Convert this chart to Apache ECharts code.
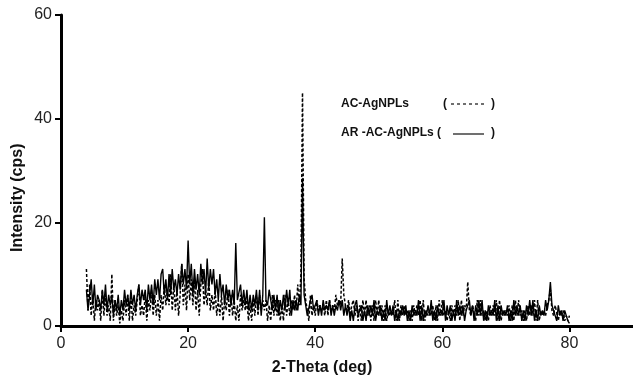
<!DOCTYPE html>
<html>
<head>
<meta charset="utf-8">
<script src="https://cdn.jsdelivr.net/npm/echarts@6/dist/echarts.min.js"></script>
<style>html,body{margin:0;padding:0;background:#fff}#c{width:633px;height:377px}</style>
</head>
<body>
<div id="c"></div>
<script>
// 2-Theta sampling (deg): start 4.0, step 0.25, to 80.0
const thetaStart = 4.0;
const thetaStep = 0.25;

// AC-AgNPLs (dashed), one row per degree (4 samples)
const acAgNPLs = [
  11,3,8,2,  6,1,5,3,  5,1,7,2,  6,2,4,1,  10,1,5,2,  4,0.5,3,1,
  5,2,6,1,  6,1,4,2,  5,8,2,4,  2,6,1,5,  3,7,2,6,  2,5,1,6,
  3,8,4,7,  4,10,3,8,  3,7,2,6,  12,4,8,3,  10,5,9,4,  9,3,7,2,
  8,11,4,7,  4,9,3,6,  3,7,2,5,  2,6,1,5,  3,7,2,6,  2,5,1,4,
  1,6,3,5,  3,5,1,4,  1,5,2,6,  2,6,3,5,  3,5,1,4,  1,6,2,5,
  2,5,1,4,  1,6,2,5,  2,5,3,6,  3,8,4,10,  45,9,5,3,  1,6,2,4,
  2,5,3,4,  3,4,2,5,  2,5,3,4,  3,6,4,5,  4,13,6,4,  3,5,2,4,
  5,2,4,1,  4,1,5,2,  5,2,4,1,  4,1,5,2,  5,2,4,1,  4,1,3,2,
  3,2,5,1,  5,1,4,2,  4,2,3,1,  3,1,4,2,  4,2,5,1,  5,1,3,2,
  3,2,4,1,  4,1,5,2,  5,2,3,1,  3,1,4,2,  4,2,5,1,  5,2,4,3,
  8.5,3,2,4,  4,1,5,2,  5,2,3,1,  3,1,4,2,  4,2,5,1,  5,1,3,2,
  3,2,4,1,  4,1,5,2,  5,2,3,1,  3,1,4,2,  4,2,5,1,  5,1,3,2,
  3,2,4,5,  7,3,2,4,  4,1,3,2,  3,1,2,1,
  2
];

// AR-AC-AgNPLs (solid), one row per degree (4 samples)
const arAcAgNPLs = [
  7,3,6,9,  4,8,3,6,  5,3,7,4,  8,3,6,4,  6,2,5,3,  6,2,5,3,
  7,4,6,3,  7,4,6,3,  6,8,4,7,  5,7,3,8,  5,8,4,9,  6,9,5,10,
  11,6,9,5,  10,6,11,7,  9,6,10,7,  12,8,11,7,  16.5,8,12,6,  11,7,10,6,
  12,8,11,6,  13,7,11,8,  11,6,9,5,  10,6,8,4,  8,5,7,4,  7,4,16,5,
  5,8,4,7,  4,7,3,6,  3,6,4,7,  3,7,2,6,  21,5,4,7,  7,3,6,3,
  6,2,5,3,  6,3,7,4,  7,2,5,3,  5,3,6,4,  28.5,6,4,2,  2,5,6,3,
  3,5,2,4,  2,5,3,4,  3,5,2,4,  2,4,3,5,  3,5,2,4,  2,4,1,3,
  1,4,5,2,  2,4,1,3,  1,4,2,4,  2,5,1,3,  2,4,1,3,  1,5,2,4,
  2,4,1,3,  1,3,2,4,  2,4,1,3,  1,4,2,3,  2,5,1,4,  1,3,2,4,
  2,5,1,3,  1,4,2,3,  2,5,1,4,  2,4,1,3,  1,5,2,4,  2,4,1,3,
  3,5,2,4,  1,4,2,5,  2,5,1,3,  1,4,2,3,  2,5,1,4,  1,4,2,3,
  2,4,1,3,  1,5,2,4,  2,4,1,3,  1,4,2,5,  2,5,1,3,  1,4,2,3,
  2,5,3,5,  8.5,4,3,2,  1,4,2,3,  1,3,2,1,
  0.5
];

const xTicks = [0, 20, 40, 60, 80];
const yTicks = [0, 20, 40, 60];
const seriesNames = ['AC-AgNPLs', 'AR -AC-AgNPLs'];

function pairs(vals) {
  return vals.map((v, i) => [thetaStart + i * thetaStep, v]);
}

const chart = echarts.init(document.getElementById('c'), null, {renderer: 'canvas'});
const font = 'Liberation Sans, Arial, Helvetica, sans-serif';
chart.setOption({
  animation: false,
  backgroundColor: '#fff',
  grid: {left: 61, top: 15, bottom: 51, right: -2, containLabel: false},
  xAxis: [{
    type: 'value', min: 0, max: 90, interval: 20,
    axisLine: {show: true, onZero: false, lineStyle: {color: '#000', width: 3}},
    axisTick: {show: true, length: 6, inside: false, lineStyle: {color: '#000', width: 2}, customValues: xTicks},
    axisLabel: {show: true, margin: 10, fontSize: 16, color: '#222', fontFamily: font, customValues: xTicks},
    splitLine: {show: false}
  }, {
    type: 'value', min: 0, max: 90, position: 'top',
    axisLine: {show: true, lineStyle: {color: '#000', width: 2.5}},
    axisTick: {show: false}, axisLabel: {show: false}, splitLine: {show: false}
  }],
  yAxis: {
    type: 'value', min: 0, max: 60, interval: 20,
    axisLine: {show: true, onZero: false, lineStyle: {color: '#000', width: 3}},
    axisTick: {show: true, length: 6, lineStyle: {color: '#000', width: 2}, customValues: yTicks},
    axisLabel: {show: true, margin: 9, fontSize: 16, color: '#222', fontFamily: font, customValues: yTicks},
    splitLine: {show: false}
  },
  series: [{
    name: seriesNames[0], type: 'line', data: pairs(acAgNPLs), showSymbol: false, symbol: 'none',
    lineStyle: {color: '#000', width: 1.5, type: [3, 2]}, z: 2
  }, {
    name: seriesNames[1], type: 'line', data: pairs(arAcAgNPLs), showSymbol: false, symbol: 'none',
    lineStyle: {color: '#000', width: 1.4}, z: 3
  }],
  graphic: [
    {type: 'text', rotation: Math.PI / 2, position: [10, 252],
     style: {text: 'Intensity (cps)', font: 'bold 16px ' + font, fill: '#111'}},
    {type: 'text', x: 322, y: 368, style: {text: '2-Theta (deg)', font: 'bold 16px ' + font, fill: '#111', align: 'center', verticalAlign: 'middle'}},
    {type: 'text', x: 341, y: 104, style: {text: seriesNames[0], font: 'bold 12px ' + font, fill: '#111', verticalAlign: 'middle'}},
    {type: 'text', x: 443, y: 104, style: {text: '(', font: 'bold 12px ' + font, fill: '#111', verticalAlign: 'middle'}},
    {type: 'line', shape: {x1: 451, y1: 104, x2: 484, y2: 104}, style: {stroke: '#111', lineWidth: 1.2, lineDash: [3, 3]}},
    {type: 'text', x: 491, y: 104, style: {text: ')', font: 'bold 12px ' + font, fill: '#111', verticalAlign: 'middle'}},
    {type: 'text', x: 341, y: 133, style: {text: seriesNames[1] + ' (', font: 'bold 12px ' + font, fill: '#111', verticalAlign: 'middle'}},
    {type: 'line', shape: {x1: 453, y1: 134, x2: 484, y2: 134}, style: {stroke: '#111', lineWidth: 1.2}},
    {type: 'text', x: 491, y: 133, style: {text: ')', font: 'bold 12px ' + font, fill: '#111', verticalAlign: 'middle'}}
  ]
});
</script>
</body>
</html>
